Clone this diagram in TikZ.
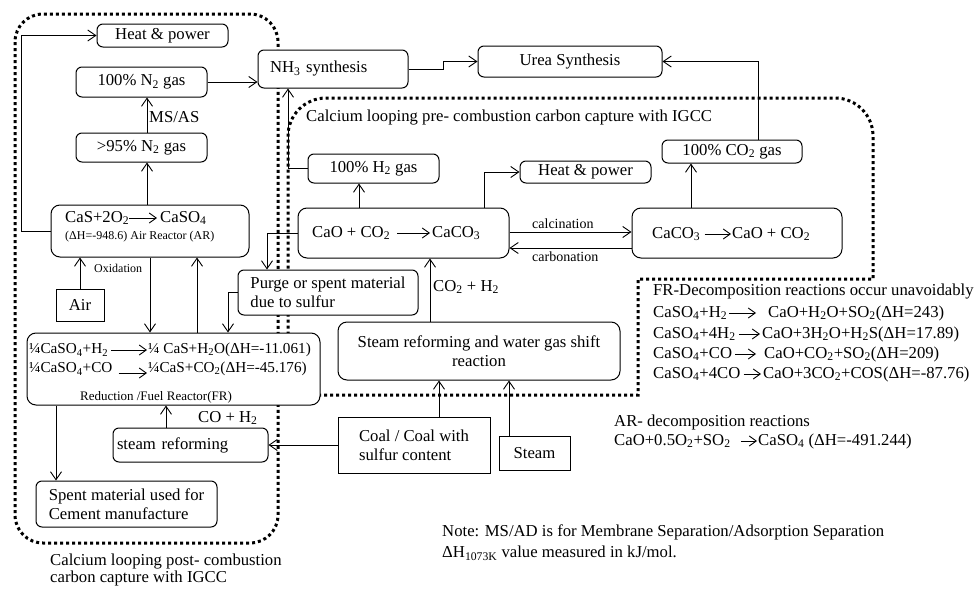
\documentclass[tikz,border=0pt]{standalone}
\usepackage{fontspec}
\setmainfont{Liberation Serif}
\usetikzlibrary{arrows.meta}
\newcommand{\sbt}[1]{\textsubscript{#1}}
\begin{document}
\begin{tikzpicture}[x=1pt,y=-1pt,
  txt/.style={font=\fontsize{16.7}{19}\selectfont, inner sep=0pt},
  mid/.style={font=\fontsize{15.2}{18}\selectfont, inner sep=0pt},
  sm/.style={font=\fontsize{13}{15}\selectfont, inner sep=0pt},
  box/.style={draw, line width=1pt, rounded corners=6pt, fill=white, inner sep=0pt, font=\fontsize{16.7}{19}\selectfont},
  sbox/.style={box, sharp corners, line width=0.85pt},
  arr/.style={line width=0.9pt, -{Straight Barb[length=8pt,width=11pt]}},
  rx/.style={line width=0.9pt, -{Straight Barb[length=7pt,width=10pt]}},
  dotb/.style={line width=3pt, dash pattern=on 3pt off 3pt}]
\fill[white] (0,0) rectangle (979,589);
\useasboundingbox (0,0) rectangle (979,589);

% dotted regions
\draw[dotb, rounded corners=28pt] (15,14) rectangle (278,543);
\draw[dotb] (288,395) -- (638,395) -- (638,279) -- (873,279) -- (873,200)
  [rounded corners=38pt] -- (873,98) -- (288,98) -- (288,200) [sharp corners] -- cycle;

% boxes
\node[box, minimum width=131pt, minimum height=23pt] (hp1) at (162.5,35.5) {Heat \& power};
\node[box, minimum width=131pt, minimum height=30pt] (n2) at (141.5,82) {100\% N\sbt{2} gas};
\node[box, minimum width=131pt, minimum height=29pt] (n95) at (141.5,147.5) {>95\% N\sbt{2} gas};
\node[box, rounded corners=9pt, minimum width=198pt, minimum height=52pt] (ar) at (150,231) {};
\node[sbox, minimum width=48pt, minimum height=32pt] (air) at (80,305) {Air};
\node[box, minimum width=180pt, minimum height=45pt, align=left] (purge) at (328,292.5) {Purge or spent material\\due to sulfur};
\node[box, rounded corners=9pt, minimum width=293pt, minimum height=72pt] (fr) at (173.5,369) {};
\node[box, minimum width=155pt, minimum height=34pt, text width=147pt, inner xsep=4pt, align=left] (sr) at (190.5,445) {steam reforming};
\node[box, minimum width=181pt, minimum height=46pt, align=left] (spent) at (126.5,504) {Spent material used for\\Cement manufacture};
\node[box, minimum width=150pt, minimum height=38pt, text width=126pt, inner xsep=12pt, align=left] (nh3) at (333,69) {NH\sbt{3} synthesis};
\node[box, minimum width=184pt, minimum height=31pt] (urea) at (570,61.5) {Urea Synthesis};
\node[box, minimum width=131pt, minimum height=29pt] (h2) at (373.5,168.5) {100\% H\sbt{2} gas};
\node[box, minimum width=131pt, minimum height=22pt] (hp2) at (585.5,172) {Heat \& power};
\node[box, minimum width=140pt, minimum height=23pt] (co2g) at (732,151.5) {100\% CO\sbt{2} gas};
\node[box, rounded corners=9pt, minimum width=211pt, minimum height=50pt] (cao) at (403.5,233) {};
\node[box, rounded corners=9pt, minimum width=210pt, minimum height=50pt] (caco) at (737,233) {};
\node[box, rounded corners=9pt, minimum width=282pt, minimum height=58pt, align=center] (swgs) at (479,351) {Steam reforming and water gas shift\\reaction};
\node[sbox, minimum width=152pt, minimum height=56pt, align=left] (coal) at (414,445) {Coal / Coal with\\sulfur content};
\node[sbox, minimum width=71pt, minimum height=34pt] (steam) at (534.5,453) {Steam};

% texts inside composite boxes
\node[txt, anchor=west] (arL) at (65,218) {CaS+2O\sbt{2}};
\node[txt, anchor=west] (arR) at (160,218) {CaSO\sbt{4}};
\draw[rx, shorten >=3pt] (arL.east) -- (arR.west);
\node[font=\fontsize{12}{14}\selectfont, inner sep=0pt, anchor=west] (arT) at (65,237) {(ΔH=-948.6) Air Reactor (AR)};

\node[mid, anchor=west] (frA) at (29,350) {¼CaSO\sbt{4}+H\sbt{2}};
\node[mid, anchor=west] (frB) at (148,350) {¼ CaS+H\sbt{2}O(ΔH=-11.061)};
\draw[rx, shorten <=3pt, shorten >=1pt] (frA.east) -- (frB.west);
\node[mid, anchor=west] (frC) at (29,369) {¼CaSO\sbt{4}+CO};
\node[mid, anchor=west] (frD) at (148,369) {¼CaS+CO\sbt{2}(ΔH=-45.176)};
\draw[rx, shorten <=6pt, shorten >=1pt] ([yshift=-4pt]frC.east) -- ([yshift=-4pt]frD.west);
\node[sm, anchor=center] (frT) at (156,397) {Reduction /Fuel Reactor(FR)};

\node[txt, anchor=west] (caoA) at (312,233) {CaO + CO\sbt{2}};
\node[txt, anchor=west] (caoB) at (432,233) {CaCO\sbt{3}};
\draw[rx, shorten <=7pt, shorten >=2pt] (caoA.east) -- (caoB.west);
\node[txt, anchor=west] (cacA) at (652,234) {CaCO\sbt{3}};
\node[txt, anchor=west] (cacB) at (732,234) {CaO + CO\sbt{2}};
\draw[rx, shorten <=4pt, shorten >=1pt] (cacA.east) -- (cacB.west);

% helper coordinates
\coordinate (c21) at (21,0);
\coordinate (c56) at (56,0);
\coordinate (c147) at (147,0);
\coordinate (c166) at (166,0);
\coordinate (c197) at (197,0);
\coordinate (c228) at (228,0);
\coordinate (c267) at (267,0);
\coordinate (c288) at (288,0);
\coordinate (c359) at (359,0);
\coordinate (c430) at (430,0);
\coordinate (c439) at (439,0);
\coordinate (c443) at (443,0);
\coordinate (c484) at (484,0);
\coordinate (c509) at (509,0);
\coordinate (c691) at (691,0);
\coordinate (c758) at (758,0);
\coordinate (y232) at (0,232);
\coordinate (y248) at (0,248);

% connectors
\draw[arr] (ar.west) -| (c21 |- hp1.west) -- (hp1.west);
\draw[arr] (c147 |- ar.north) -- (c147 |- n95.south);
\draw[arr] (c147 |- n95.north) -- (c147 |- n2.south);
\draw[arr] (air.north) -- (air.north |- ar.south);
\draw[arr] (ar.south) -- (ar.south |- fr.north);
\draw[arr] (c197 |- fr.north) -- (c197 |- ar.south);
\draw[arr] (purge.west) -| (c228 |- fr.north);
\draw[arr] (cao.west) -| (c267 |- purge.north);
\draw[arr] (c56 |- fr.south) -- (c56 |- spent.north);
\draw[arr] (c166 |- sr.north) -- (c166 |- fr.south);
\draw[arr] (coal.west) -- (sr.east);
\draw[arr] (n2.east) -- (n2.east -| nh3.west);
\draw[arr] (nh3.east) -| (c443 |- urea.west) -- (urea.west);
\draw[arr] (c758 |- co2g.north) |- (urea.east);
\draw[arr] (h2.west) -| (c288 |- nh3.south);
\draw[arr] (c359 |- cao.north) -- (c359 |- h2.south);
\draw[arr] (c484 |- cao.north) |- (hp2.west);
\draw[arr] (cao.east |- y232) -- (caco.west |- y232);
\draw[arr] (caco.west |- y248) -- (cao.east |- y248);
\draw[arr] (c691 |- caco.north) -- (c691 |- co2g.south);
\draw[arr] (c430 |- swgs.north) -- (c430 |- cao.south);
\draw[arr] (c439 |- coal.north) -- (c439 |- swgs.south);
\draw[arr] (c509 |- steam.north) -- (c509 |- swgs.south);

% labels
\node[txt, anchor=west] (msas) at (149,117) {MS/AS};
\node[font=\fontsize{12}{14}\selectfont, inner sep=0pt, anchor=west] (oxl) at (94,268) {Oxidation};
\node[font=\fontsize{14}{16}\selectfont, inner sep=0pt, anchor=west] (calc) at (532,224) {calcination};
\node[font=\fontsize{14}{16}\selectfont, inner sep=0pt, anchor=west] (carb) at (532,257) {carbonation};
\node[txt, anchor=west] (coh) at (198,418) {CO + H\sbt{2}};
\node[txt, anchor=west] (co2h) at (433,287) {CO\sbt{2} + H\sbt{2}};
\node[txt, anchor=west] (cappre) at (306,118) {Calcium looping pre- combustion carbon capture with IGCC};
\node[txt, anchor=north west, align=left, font=\fontsize{16.7}{17}\selectfont] (cappost) at (50,554) {Calcium looping post- combustion\\carbon capture with IGCC};

% FR decomposition reactions
\node[txt, anchor=west] (frd0) at (653,292) {FR-Decomposition reactions occur unavoidably};
\node[txt, anchor=west] (frd1a) at (653,313) {CaSO\sbt{4}+H\sbt{2}};
\node[txt, anchor=west] (frd1b) at (768,313) {CaO+H\sbt{2}O+SO\sbt{2}(ΔH=243)};
\draw[rx, shorten <=2pt, shorten >=12pt] (frd1a.east) -- (frd1b.west);
\node[txt, anchor=west] (frd2a) at (653,334) {CaSO\sbt{4}+4H\sbt{2}};
\node[txt, anchor=west] (frd2b) at (762,334) {CaO+3H\sbt{2}O+H\sbt{2}S(ΔH=17.89)};
\draw[rx, shorten <=3pt, shorten >=2pt] (frd2a.east) -- (frd2b.west);
\node[txt, anchor=west] (frd3a) at (653,354) {CaSO\sbt{4}+CO};
\node[txt, anchor=west] (frd3b) at (764,354) {CaO+CO\sbt{2}+SO\sbt{2}(ΔH=209)};
\draw[rx, shorten <=3pt, shorten >=8pt] (frd3a.east) -- (frd3b.west);
\node[txt, anchor=west] (frd4a) at (653,374) {CaSO\sbt{4}+4CO};
\node[txt, anchor=west] (frd4b) at (763,374) {CaO+3CO\sbt{2}+COS(ΔH=-87.76)};
\draw[rx, shorten <=3pt, shorten >=2pt] (frd4a.east) -- (frd4b.west);

% AR decomposition
\node[txt, anchor=west] (ard0) at (614,422) {AR- decomposition reactions};
\node[txt, anchor=west] (ard1a) at (614,441) {CaO+0.5O\sbt{2}+SO\sbt{2}};
\node[txt, anchor=west] (ard1b) at (758,441) {CaSO\sbt{4} (ΔH=-491.244)};
\draw[rx, shorten <=10pt, shorten >=1pt] (ard1a.east) -- (ard1b.west);

% note
\node[txt, anchor=west] (note1) at (442,532) {Note: MS/AD is for Membrane Separation/Adsorption Separation};
\node[txt, anchor=west] (note2) at (442,553) {ΔH\sbt{1073K} value measured in kJ/mol.};
\end{tikzpicture}
\end{document}
